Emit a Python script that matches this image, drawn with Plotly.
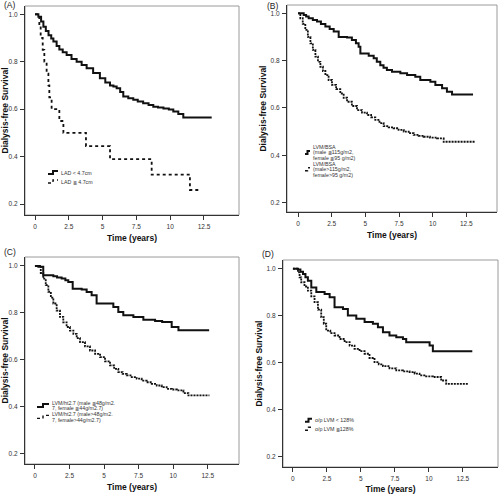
import plotly.graph_objects as go

# ---------------- data ----------------
a_low_t = [0, 0.25, 0.45, 0.62, 0.8, 1.0, 1.2, 1.36, 1.6, 1.8, 2.05, 2.34, 2.7, 3.08, 3.45, 3.82, 4.3, 4.8, 5.2, 5.55,
           5.8, 6.04, 6.3, 6.53, 6.9, 7.27, 7.6, 8.0, 8.4, 8.75, 9.1, 9.5, 9.9, 10.23, 10.6, 10.97, 13.07]
a_low_s = [1.0, 0.99, 0.97, 0.948, 0.93, 0.912, 0.898, 0.885, 0.866, 0.852, 0.84, 0.828, 0.812, 0.80, 0.786, 0.772,
           0.752, 0.73, 0.712, 0.70, 0.695, 0.688, 0.672, 0.653, 0.646, 0.64, 0.632, 0.625, 0.617, 0.61, 0.607, 0.603,
           0.598, 0.59, 0.58, 0.565, 0.565]
a_high_t = [0, 0.32, 0.42, 0.57, 0.69, 0.86, 0.99, 1.06, 1.23, 1.80, 2.10, 3.77, 5.55, 8.63, 11.46, 12.2]
a_high_s = [1.0, 0.95, 0.90, 0.85, 0.80, 0.75, 0.70, 0.65, 0.60, 0.55, 0.50, 0.444, 0.389, 0.324, 0.259, 0.259]

b_low_t = [0, 0.42, 0.6, 0.79, 1.1, 1.41, 1.7, 2.03, 2.35, 2.65, 3.02, 3.64, 4.0, 4.3, 4.5, 4.63, 5.25, 5.62, 5.85,
           6.11, 6.35, 6.6, 6.98, 7.6, 8.1, 8.71, 9.08, 9.83, 10.2, 10.7, 11.06, 11.44, 13.0]
b_low_s = [1.0, 0.993, 0.986, 0.979, 0.972, 0.965, 0.955, 0.944, 0.934, 0.923, 0.90, 0.898, 0.887, 0.873, 0.859, 0.83,
           0.82, 0.81, 0.795, 0.78, 0.77, 0.76, 0.753, 0.746, 0.739, 0.732, 0.718, 0.711, 0.697, 0.683, 0.668, 0.657,
           0.657]
b_high_t = [0, 0.17, 0.35, 0.54, 0.73, 0.92, 1.1, 1.29, 1.48, 1.66, 1.85, 2.03, 2.27, 2.52, 2.83, 3.14, 3.39, 3.64,
            4.0, 4.38, 4.75, 5.12, 5.43, 5.74, 6.05, 6.36, 6.73, 7.1, 7.47, 7.85, 8.22, 8.59, 8.96, 9.33, 9.8, 10.32,
            10.82, 13.17]
b_high_s = [1.0, 0.979, 0.955, 0.93, 0.90, 0.873, 0.845, 0.817, 0.795, 0.774, 0.756, 0.739, 0.718, 0.697, 0.679,
            0.661, 0.643, 0.626, 0.608, 0.591, 0.58, 0.57, 0.56, 0.549, 0.536, 0.523, 0.518, 0.514, 0.507, 0.50, 0.493,
            0.486, 0.482, 0.478, 0.474, 0.471, 0.457, 0.457]

c_low_t = [0, 0.36, 0.6, 1.33, 1.6, 1.93, 2.2, 2.41, 2.73, 3.38, 3.74, 4.1, 4.46, 5.67, 6.03, 6.39, 7.12, 7.84, 8.69,
           9.2, 9.89, 10.38, 12.6]
c_low_s = [1.0, 0.996, 0.96, 0.956, 0.951, 0.946, 0.939, 0.932, 0.903, 0.90, 0.889, 0.875, 0.84, 0.825, 0.804, 0.79,
           0.783, 0.771, 0.766, 0.761, 0.74, 0.726, 0.726]
c_high_t = [0, 0.24, 0.42, 0.6, 0.78, 0.97, 1.15, 1.33, 1.57, 1.81, 2.05, 2.29, 2.53, 2.78, 3.02, 3.26, 3.62, 3.98,
            4.35, 4.71, 5.07, 5.43, 5.73, 6.03, 6.34, 6.64, 7.0, 7.36, 7.72, 8.08, 8.45, 8.81, 9.17, 9.53, 9.9, 10.26,
            10.74, 11.1, 12.62]
c_high_s = [1.0, 0.996, 0.97, 0.946, 0.918, 0.89, 0.865, 0.84, 0.81, 0.783, 0.76, 0.74, 0.725, 0.711, 0.693, 0.676,
            0.658, 0.64, 0.626, 0.612, 0.594, 0.577, 0.562, 0.548, 0.541, 0.534, 0.527, 0.52, 0.512, 0.505, 0.498,
            0.491, 0.484, 0.477, 0.474, 0.47, 0.459, 0.449, 0.449]

d_low_t = [0, 0.37, 0.55, 0.74, 0.92, 1.1, 1.35, 1.72, 2.33, 2.7, 3.06, 3.68, 4.04, 4.66, 5.27, 5.88, 6.25, 6.62,
           7.1, 7.6, 8.09, 8.33, 10.05, 10.29, 13.19]
d_low_s = [1.0, 0.997, 0.987, 0.977, 0.963, 0.949, 0.92, 0.90, 0.892, 0.878, 0.835, 0.828, 0.80, 0.786, 0.772, 0.765,
           0.75, 0.729, 0.715, 0.708, 0.70, 0.686, 0.672, 0.648, 0.648]
d_high_t = [0, 0.37, 0.49, 0.61, 0.85, 1.1, 1.35, 1.59, 1.84, 2.08, 2.27, 2.45, 2.75, 3.06, 3.43, 3.8, 4.17, 4.53,
            4.9, 5.27, 5.63, 6.0, 6.31, 6.62, 7.1, 7.6, 8.09, 8.58, 8.95, 9.31, 9.8, 10.29, 10.9, 11.27, 12.87]
d_high_s = [1.0, 0.984, 0.963, 0.942, 0.924, 0.906, 0.882, 0.857, 0.825, 0.793, 0.765, 0.736, 0.725, 0.715, 0.70,
            0.687, 0.672, 0.658, 0.648, 0.637, 0.619, 0.601, 0.592, 0.584, 0.575, 0.566, 0.562, 0.559, 0.552, 0.545,
            0.541, 0.538, 0.523, 0.509, 0.506]

x_tickvals = [0, 2.5, 5, 7.5, 10, 12.5]
x_ticktext = ["0", "2.5", "5", "7.5", "10", "12.5"]
y_tickvals = [0.2, 0.4, 0.6, 0.8, 1.0]
y_ticktext = ["0.2", "0.4", "0.6", "0.8", "1.0"]

panel_labels = ["(A)", "(B)", "(C)", "(D)"]
legend_texts = [
    [["LAD < 4.7cm"], ["LAD ≧ 4.7cm"]],
    [["LVM/BSA", "(male ≦115g/m2,", "female ≦95 g/m2)"], ["LVM/BSA", "(male>115g/m2,", "female>95 g/m2)"]],
    [["LVM/ht2.7 (male ≦48g/m2.", "7, female ≦44g/m2.7)"], ["LVM/ht2.7 (male>48g/m2.", "7, female>44g/m2.7)"]],
    [["o/p LVM < 128%"], ["o/p LVM ≧128%"]],
]
y_title = "Dialysis-free Survival"
x_title = "Time (years)"

# ---------------- layout geometry (pixels) ----------------
W, H = 500, 494
FONT = "Liberation Sans, Arial, sans-serif"
LINE_GAP = 5.6


def px(x):
    return x / W


def py(y):
    return 1 - y / H


panels = [
    dict(box=(25, 239, 6, 215), xr=(-0.74, 15.09), yr=(0.1536, 1.035),
         data=[(a_low_t, a_low_s), (a_high_t, a_high_s)], dash="dot",
         lab=(2, 5), leg=[(48, 59, 172.5), (48, 59, 181.5)]),
    dict(box=(287, 497, 5, 212), xr=(-0.82, 14.78), yr=(0.160, 1.035),
         data=[(b_low_t, b_low_s), (b_high_t, b_high_s)], dash="2px,1px",
         lab=(265, 6), leg=[(305, 311, 152.5), (305, 311, 169.3)]),
    dict(box=(25, 239, 257, 464), xr=(-0.72, 14.76), yr=(0.157, 1.038),
         data=[(c_low_t, c_low_s), (c_high_t, c_high_s)], dash="2px,1px",
         lab=(2, 252), leg=[(37, 50, 405.5), (37, 50, 416.9)]),
    dict(box=(283, 498, 260, 467), xr=(-0.73, 15.08), yr=(0.154, 1.037),
         data=[(d_low_t, d_low_s), (d_high_t, d_high_s)], dash="2px,1px",
         lab=(260, 254), leg=[(305, 313, 420.3), (305, 313, 428.7)]),
]

fig = go.Figure()
shapes = []
annotations = []
layout_axes = {}

for i, p in enumerate(panels):
    n = "" if i == 0 else str(i + 1)
    xa, ya = "x" + n, "y" + n
    l, r, t, b = p["box"]
    (lo_t, lo_s), (hi_t, hi_s) = p["data"]
    fig.add_trace(go.Scatter(x=lo_t, y=lo_s, mode="lines", line=dict(color="#111111", width=2, shape="hv"),
                             xaxis=xa, yaxis=ya, showlegend=False, name=" ".join(legend_texts[i][0])))
    fig.add_trace(go.Scatter(x=hi_t, y=hi_s, mode="lines",
                             line=dict(color="#111111", width=1.8, shape="hv", dash=p["dash"]),
                             xaxis=xa, yaxis=ya, showlegend=False, name=" ".join(legend_texts[i][1])))
    layout_axes["xaxis" + n] = dict(
        domain=[px(l), px(r)], range=list(p["xr"]), anchor=ya,
        tickvals=x_tickvals, ticktext=x_ticktext, ticks="outside", ticklen=4, tickwidth=1, tickcolor="#333",
        showline=True, linecolor="#333", linewidth=1.2, mirror=False, showgrid=False, zeroline=False,
        tickfont=dict(family=FONT, size=6.5, color="#333"), ticklabelstandoff=1,
        title=dict(text="<b>" + x_title + "</b>", font=dict(family=FONT, size=8.5, color="#111"), standoff=6),
    )
    layout_axes["yaxis" + n] = dict(
        domain=[py(b), py(t)], range=list(p["yr"]), anchor=xa,
        tickvals=y_tickvals, ticktext=y_ticktext, ticks="outside", ticklen=4, tickwidth=1, tickcolor="#333",
        showline=True, linecolor="#333", linewidth=1.2, mirror=False, showgrid=False, zeroline=False,
        tickfont=dict(family=FONT, size=6.5, color="#333"), ticklabelstandoff=1,
        title=dict(text="<b>" + y_title + "</b>", font=dict(family=FONT, size=8.5, color="#111"), standoff=2),
    )
    shapes.append(dict(type="rect", xref=xa + " domain", yref=ya + " domain", x0=0, x1=1, y0=0, y1=1,
                       line=dict(color="#9a9a9a", width=1), layer="below"))
    annotations.append(dict(text=panel_labels[i], x=px(p["lab"][0]), y=py(p["lab"][1]), xref="paper", yref="paper",
                            xanchor="left", yanchor="middle", showarrow=False,
                            font=dict(family=FONT, size=8.5, color="#222")))
    for j, (kx0, tx, ky) in enumerate(p["leg"]):
        kx1 = tx - 1
        mid = (kx0 + kx1) / 2
        path = "M {:.4f},{:.4f} L {:.4f},{:.4f} L {:.4f},{:.4f} L {:.4f},{:.4f}".format(
            px(kx0), py(ky + 1.5), px(mid), py(ky + 1.5), px(mid), py(ky - 1.5), px(kx1), py(ky - 1.5))
        shapes.append(dict(type="path", xref="paper", yref="paper", path=path,
                           line=dict(color="#111", width=2 if j == 0 else 1.4,
                                     dash="solid" if j == 0 else "dot")))
        lines = legend_texts[i][j]
        nl = len(lines)
        for k, txt in enumerate(lines):
            ly = ky + (k - (nl - 1) / 2) * LINE_GAP
            annotations.append(dict(text=txt, x=px(tx), y=py(ly), xref="paper", yref="paper",
                                    xanchor="left", yanchor="middle", align="left", showarrow=False,
                                    font=dict(family=FONT, size=5.3, color="#333")))

fig.update_layout(
    width=W, height=H, margin=dict(l=0, r=0, t=0, b=0),
    paper_bgcolor="white", plot_bgcolor="white",
    shapes=shapes, annotations=annotations, showlegend=False,
    **layout_axes,
)

fig.write_html("out.html",
               config={"displayModeBar": False},
               post_script="document.body.style.margin='0';document.body.style.padding='0';"
                           "document.body.style.overflow='hidden';")
